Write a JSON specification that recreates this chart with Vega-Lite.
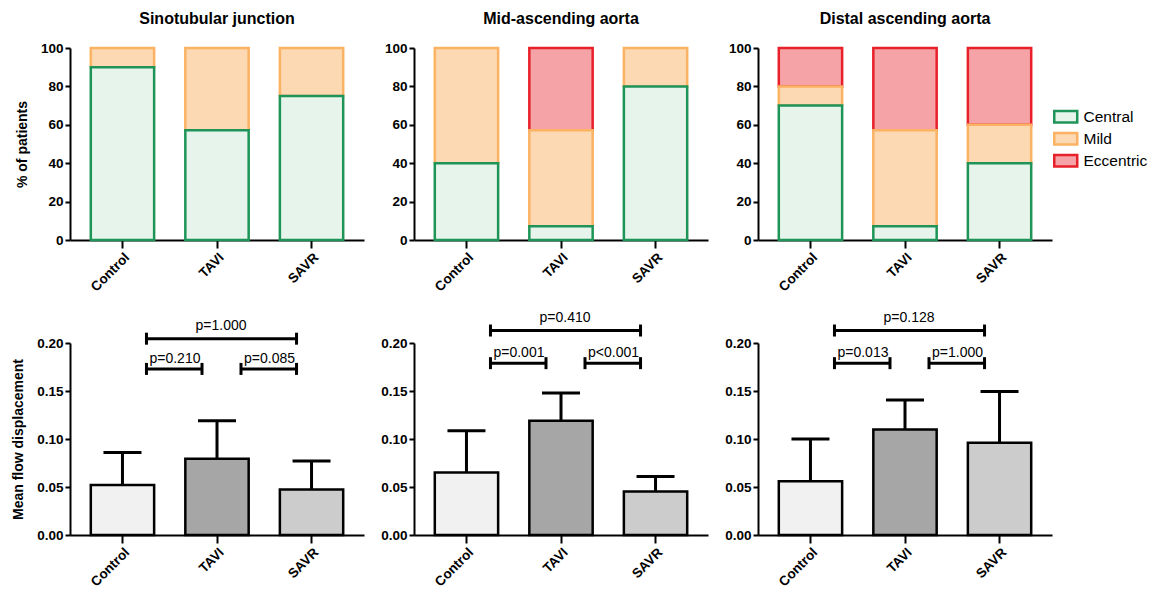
{
  "$schema": "https://vega.github.io/schema/vega-lite/v6.json",
  "padding": {"left": 11, "top": 11, "right": 5, "bottom": 2},
  "datasets": {
    "top": [
      {"panel": "Sinotubular junction", "group": "Control", "type": "Mild", "pct": 10},
      {"panel": "Sinotubular junction", "group": "Control", "type": "Central", "pct": 90},
      {"panel": "Sinotubular junction", "group": "TAVI", "type": "Mild", "pct": 42.9},
      {"panel": "Sinotubular junction", "group": "TAVI", "type": "Central", "pct": 57.1},
      {"panel": "Sinotubular junction", "group": "SAVR", "type": "Mild", "pct": 25},
      {"panel": "Sinotubular junction", "group": "SAVR", "type": "Central", "pct": 75},
      {"panel": "Mid-ascending aorta", "group": "Control", "type": "Mild", "pct": 60},
      {"panel": "Mid-ascending aorta", "group": "Control", "type": "Central", "pct": 40},
      {"panel": "Mid-ascending aorta", "group": "TAVI", "type": "Eccentric", "pct": 42.9},
      {"panel": "Mid-ascending aorta", "group": "TAVI", "type": "Mild", "pct": 50},
      {"panel": "Mid-ascending aorta", "group": "TAVI", "type": "Central", "pct": 7.1},
      {"panel": "Mid-ascending aorta", "group": "SAVR", "type": "Mild", "pct": 20},
      {"panel": "Mid-ascending aorta", "group": "SAVR", "type": "Central", "pct": 80},
      {"panel": "Distal ascending aorta", "group": "Control", "type": "Eccentric", "pct": 20},
      {"panel": "Distal ascending aorta", "group": "Control", "type": "Mild", "pct": 10},
      {"panel": "Distal ascending aorta", "group": "Control", "type": "Central", "pct": 70},
      {"panel": "Distal ascending aorta", "group": "TAVI", "type": "Eccentric", "pct": 42.9},
      {"panel": "Distal ascending aorta", "group": "TAVI", "type": "Mild", "pct": 50},
      {"panel": "Distal ascending aorta", "group": "TAVI", "type": "Central", "pct": 7.1},
      {"panel": "Distal ascending aorta", "group": "SAVR", "type": "Eccentric", "pct": 40},
      {"panel": "Distal ascending aorta", "group": "SAVR", "type": "Mild", "pct": 20},
      {"panel": "Distal ascending aorta", "group": "SAVR", "type": "Central", "pct": 40}
    ],
    "bottom": [
      {"panel": "Sinotubular junction", "group": "Control", "mean": 0.052, "upper": 0.086},
      {"panel": "Sinotubular junction", "group": "TAVI", "mean": 0.0795, "upper": 0.119},
      {"panel": "Sinotubular junction", "group": "SAVR", "mean": 0.0475, "upper": 0.077},
      {"panel": "Mid-ascending aorta", "group": "Control", "mean": 0.065, "upper": 0.1085},
      {"panel": "Mid-ascending aorta", "group": "TAVI", "mean": 0.119, "upper": 0.148},
      {"panel": "Mid-ascending aorta", "group": "SAVR", "mean": 0.0452, "upper": 0.061},
      {"panel": "Distal ascending aorta", "group": "Control", "mean": 0.056, "upper": 0.100},
      {"panel": "Distal ascending aorta", "group": "TAVI", "mean": 0.110, "upper": 0.1405},
      {"panel": "Distal ascending aorta", "group": "SAVR", "mean": 0.096, "upper": 0.1496}
    ],
    "brackets": [
      {"panel": "Sinotubular junction", "g1": "Control", "g2": "SAVR", "level": "top", "y": 0.2045, "label": "p=1.000"},
      {"panel": "Sinotubular junction", "g1": "Control", "g2": "TAVI", "level": "small", "y": 0.173, "label": "p=0.210"},
      {"panel": "Sinotubular junction", "g1": "TAVI", "g2": "SAVR", "level": "small", "y": 0.173, "label": "p=0.085"},
      {"panel": "Mid-ascending aorta", "g1": "Control", "g2": "SAVR", "level": "top", "y": 0.213, "label": "p=0.410"},
      {"panel": "Mid-ascending aorta", "g1": "Control", "g2": "TAVI", "level": "small", "y": 0.179, "label": "p=0.001"},
      {"panel": "Mid-ascending aorta", "g1": "TAVI", "g2": "SAVR", "level": "small", "y": 0.179, "label": "p<0.001"},
      {"panel": "Distal ascending aorta", "g1": "Control", "g2": "SAVR", "level": "top", "y": 0.213, "label": "p=0.128"},
      {"panel": "Distal ascending aorta", "g1": "Control", "g2": "TAVI", "level": "small", "y": 0.179, "label": "p=0.013"},
      {"panel": "Distal ascending aorta", "g1": "TAVI", "g2": "SAVR", "level": "small", "y": 0.179, "label": "p=1.000"}
    ]
  },
  "columns": 3,
  "spacing": {"row": 16, "column": 16},
  "resolve": {"scale": {"fill": "independent", "stroke": "independent"}, "legend": {"fill": "independent", "stroke": "independent"}},
  "concat": [
    {
      "title": "Sinotubular junction",
      "width": 294, "height": 192,
      "data": {"name": "top"},
      "transform": [{"filter": "datum.panel === 'Sinotubular junction'"}, {"calculate": "indexof(['Central','Mild','Eccentric'], datum.type)", "as": "k"}],
      "mark": {"type": "bar", "strokeWidth": 2.5},
      "encoding": {
        "x": {"field": "group", "type": "nominal", "scale": {"domain": ["Control", "TAVI", "SAVR"], "paddingInner": 0.33, "paddingOuter": 0.22}, "title": null},
        "y": {"field": "pct", "type": "quantitative", "stack": "zero", "scale": {"domain": [0, 100]}, "axis": {"values": [0, 20, 40, 60, 80, 100]}, "title": "% of patients"},
        "order": {"field": "k", "type": "quantitative", "sort": "ascending"},
        "fill": {"field": "type", "type": "nominal", "scale": {"domain": ["Central", "Mild", "Eccentric"], "range": ["#e6f4eb", "#fcd9b2", "#f5a3a6"]}, "legend": null},
        "stroke": {"field": "type", "type": "nominal", "scale": {"domain": ["Central", "Mild", "Eccentric"], "range": ["#1f9458", "#fbb262", "#e8202a"]}, "legend": null}
      }
    },
    {
      "title": "Mid-ascending aorta",
      "width": 294, "height": 192,
      "data": {"name": "top"},
      "transform": [{"filter": "datum.panel === 'Mid-ascending aorta'"}, {"calculate": "indexof(['Central','Mild','Eccentric'], datum.type)", "as": "k"}],
      "mark": {"type": "bar", "strokeWidth": 2.5},
      "encoding": {
        "x": {"field": "group", "type": "nominal", "scale": {"domain": ["Control", "TAVI", "SAVR"], "paddingInner": 0.33, "paddingOuter": 0.22}, "title": null},
        "y": {"field": "pct", "type": "quantitative", "stack": "zero", "scale": {"domain": [0, 100]}, "axis": {"values": [0, 20, 40, 60, 80, 100]}, "title": null},
        "order": {"field": "k", "type": "quantitative", "sort": "ascending"},
        "fill": {"field": "type", "type": "nominal", "scale": {"domain": ["Central", "Mild", "Eccentric"], "range": ["#e6f4eb", "#fcd9b2", "#f5a3a6"]}, "legend": null},
        "stroke": {"field": "type", "type": "nominal", "scale": {"domain": ["Central", "Mild", "Eccentric"], "range": ["#1f9458", "#fbb262", "#e8202a"]}, "legend": null}
      }
    },
    {
      "title": "Distal ascending aorta",
      "width": 294, "height": 192,
      "data": {"name": "top"},
      "transform": [{"filter": "datum.panel === 'Distal ascending aorta'"}, {"calculate": "indexof(['Central','Mild','Eccentric'], datum.type)", "as": "k"}],
      "mark": {"type": "bar", "strokeWidth": 2.5},
      "encoding": {
        "x": {"field": "group", "type": "nominal", "scale": {"domain": ["Control", "TAVI", "SAVR"], "paddingInner": 0.33, "paddingOuter": 0.22}, "title": null},
        "y": {"field": "pct", "type": "quantitative", "stack": "zero", "scale": {"domain": [0, 100]}, "axis": {"values": [0, 20, 40, 60, 80, 100]}, "title": null},
        "order": {"field": "k", "type": "quantitative", "sort": "ascending"},
        "fill": {"field": "type", "type": "nominal", "scale": {"domain": ["Central", "Mild", "Eccentric"], "range": ["#e6f4eb", "#fcd9b2", "#f5a3a6"]},
          "legend": {"orient": "none", "legendX": 300, "legendY": 61, "title": null, "symbolType": "M-2,-1H2V1H-2Z", "symbolSize": 132, "symbolStrokeWidth": 2.5, "labelFontSize": 15.5, "labelColor": "#000", "labelFontWeight": "normal", "rowPadding": 0, "labelOffset": 10}},
        "stroke": {"field": "type", "type": "nominal", "scale": {"domain": ["Central", "Mild", "Eccentric"], "range": ["#1f9458", "#fbb262", "#e8202a"]},
          "legend": {"orient": "none", "legendX": 300, "legendY": 61, "title": null, "symbolType": "M-2,-1H2V1H-2Z", "symbolSize": 132, "symbolStrokeWidth": 2.5, "labelFontSize": 15.5, "labelColor": "#000", "labelFontWeight": "normal", "rowPadding": 0, "labelOffset": 10}}
      }
    },
    {
      "width": 294, "height": 192,
      "layer": [
        {
          "data": {"name": "bottom"},
          "transform": [{"filter": "datum.panel === 'Sinotubular junction'"}],
          "mark": {"type": "bar", "stroke": "#000", "strokeWidth": 2.5},
          "encoding": {
            "x": {"field": "group", "type": "nominal", "scale": {"domain": ["Control", "TAVI", "SAVR"], "paddingInner": 0.33, "paddingOuter": 0.22}, "title": null},
            "y": {"field": "mean", "type": "quantitative", "scale": {"domain": [0, 0.2]}, "axis": {"values": [0, 0.05, 0.1, 0.15, 0.2], "format": ".2f"}, "title": "Mean flow displacement"},
            "fill": {"field": "group", "type": "nominal", "scale": {"domain": ["Control", "TAVI", "SAVR"], "range": ["#f1f1f1", "#a6a6a6", "#cccccc"]}, "legend": null}
          }
        },
        {
          "data": {"name": "bottom"},
          "transform": [{"filter": "datum.panel === 'Sinotubular junction'"}],
          "mark": {"type": "rule", "strokeWidth": 3, "color": "#000"},
          "encoding": {
            "x": {"field": "group", "type": "nominal", "title": null},
            "y": {"field": "mean", "type": "quantitative", "title": "Mean flow displacement"},
            "y2": {"field": "upper"}
          }
        },
        {
          "data": {"name": "bottom"},
          "transform": [{"filter": "datum.panel === 'Sinotubular junction'"}],
          "mark": {"type": "rule", "strokeWidth": 3, "color": "#000", "xOffset": -19, "x2Offset": 19},
          "encoding": {
            "x": {"field": "group", "type": "nominal", "title": null},
            "x2": {"field": "group"},
            "y": {"field": "upper", "type": "quantitative", "title": "Mean flow displacement"}
          }
        },
        {
          "data": {"name": "brackets"},
          "transform": [{"filter": "datum.panel === 'Sinotubular junction'"}],
          "mark": {"type": "rule", "strokeWidth": 3, "color": "#000", "xOffset": 24, "x2Offset": -15},
          "encoding": {
            "x": {"field": "g1", "type": "nominal", "title": null},
            "x2": {"field": "g2"},
            "y": {"field": "y", "type": "quantitative", "title": "Mean flow displacement"}
          }
        },
        {
          "data": {"name": "brackets"},
          "transform": [{"filter": "datum.panel === 'Sinotubular junction'"}],
          "mark": {"type": "rule", "strokeWidth": 3, "color": "#000", "xOffset": 24, "yOffset": -6, "y2Offset": 6},
          "encoding": {
            "x": {"field": "g1", "type": "nominal", "title": null},
            "y": {"field": "y", "type": "quantitative", "title": "Mean flow displacement"},
            "y2": {"field": "y"}
          }
        },
        {
          "data": {"name": "brackets"},
          "transform": [{"filter": "datum.panel === 'Sinotubular junction'"}],
          "mark": {"type": "rule", "strokeWidth": 3, "color": "#000", "xOffset": -15, "yOffset": -6, "y2Offset": 6},
          "encoding": {
            "x": {"field": "g2", "type": "nominal", "title": null},
            "y": {"field": "y", "type": "quantitative", "title": "Mean flow displacement"},
            "y2": {"field": "y"}
          }
        },
        {
          "data": {"name": "brackets"},
          "transform": [{"filter": "datum.panel === 'Sinotubular junction' && datum.level === 'small'"}],
          "mark": {"type": "text", "fontSize": 14, "color": "#000", "align": "left", "baseline": "alphabetic", "xOffset": 27, "yOffset": -6},
          "encoding": {
            "x": {"field": "g1", "type": "nominal", "title": null},
            "y": {"field": "y", "type": "quantitative", "title": "Mean flow displacement"},
            "text": {"field": "label"}
          }
        },
        {
          "data": {"name": "brackets"},
          "transform": [{"filter": "datum.panel === 'Sinotubular junction' && datum.level === 'top'"}],
          "mark": {"type": "text", "fontSize": 14, "color": "#000", "align": "center", "baseline": "alphabetic", "xOffset": 4, "yOffset": -9},
          "encoding": {
            "x": {"datum": "TAVI", "type": "nominal", "title": null},
            "y": {"field": "y", "type": "quantitative", "title": "Mean flow displacement"},
            "text": {"field": "label"}
          }
        }
      ]
    },
    {
      "width": 294, "height": 192,
      "layer": [
        {
          "data": {"name": "bottom"},
          "transform": [{"filter": "datum.panel === 'Mid-ascending aorta'"}],
          "mark": {"type": "bar", "stroke": "#000", "strokeWidth": 2.5},
          "encoding": {
            "x": {"field": "group", "type": "nominal", "scale": {"domain": ["Control", "TAVI", "SAVR"], "paddingInner": 0.33, "paddingOuter": 0.22}, "title": null},
            "y": {"field": "mean", "type": "quantitative", "scale": {"domain": [0, 0.2]}, "axis": {"values": [0, 0.05, 0.1, 0.15, 0.2], "format": ".2f"}, "title": null},
            "fill": {"field": "group", "type": "nominal", "scale": {"domain": ["Control", "TAVI", "SAVR"], "range": ["#f1f1f1", "#a6a6a6", "#cccccc"]}, "legend": null}
          }
        },
        {
          "data": {"name": "bottom"},
          "transform": [{"filter": "datum.panel === 'Mid-ascending aorta'"}],
          "mark": {"type": "rule", "strokeWidth": 3, "color": "#000"},
          "encoding": {
            "x": {"field": "group", "type": "nominal", "title": null},
            "y": {"field": "mean", "type": "quantitative", "title": null},
            "y2": {"field": "upper"}
          }
        },
        {
          "data": {"name": "bottom"},
          "transform": [{"filter": "datum.panel === 'Mid-ascending aorta'"}],
          "mark": {"type": "rule", "strokeWidth": 3, "color": "#000", "xOffset": -19, "x2Offset": 19},
          "encoding": {
            "x": {"field": "group", "type": "nominal", "title": null},
            "x2": {"field": "group"},
            "y": {"field": "upper", "type": "quantitative", "title": null}
          }
        },
        {
          "data": {"name": "brackets"},
          "transform": [{"filter": "datum.panel === 'Mid-ascending aorta'"}],
          "mark": {"type": "rule", "strokeWidth": 3, "color": "#000", "xOffset": 24, "x2Offset": -15},
          "encoding": {
            "x": {"field": "g1", "type": "nominal", "title": null},
            "x2": {"field": "g2"},
            "y": {"field": "y", "type": "quantitative", "title": null}
          }
        },
        {
          "data": {"name": "brackets"},
          "transform": [{"filter": "datum.panel === 'Mid-ascending aorta'"}],
          "mark": {"type": "rule", "strokeWidth": 3, "color": "#000", "xOffset": 24, "yOffset": -6, "y2Offset": 6},
          "encoding": {
            "x": {"field": "g1", "type": "nominal", "title": null},
            "y": {"field": "y", "type": "quantitative", "title": null},
            "y2": {"field": "y"}
          }
        },
        {
          "data": {"name": "brackets"},
          "transform": [{"filter": "datum.panel === 'Mid-ascending aorta'"}],
          "mark": {"type": "rule", "strokeWidth": 3, "color": "#000", "xOffset": -15, "yOffset": -6, "y2Offset": 6},
          "encoding": {
            "x": {"field": "g2", "type": "nominal", "title": null},
            "y": {"field": "y", "type": "quantitative", "title": null},
            "y2": {"field": "y"}
          }
        },
        {
          "data": {"name": "brackets"},
          "transform": [{"filter": "datum.panel === 'Mid-ascending aorta' && datum.level === 'small'"}],
          "mark": {"type": "text", "fontSize": 14, "color": "#000", "align": "left", "baseline": "alphabetic", "xOffset": 27, "yOffset": -6},
          "encoding": {
            "x": {"field": "g1", "type": "nominal", "title": null},
            "y": {"field": "y", "type": "quantitative", "title": null},
            "text": {"field": "label"}
          }
        },
        {
          "data": {"name": "brackets"},
          "transform": [{"filter": "datum.panel === 'Mid-ascending aorta' && datum.level === 'top'"}],
          "mark": {"type": "text", "fontSize": 14, "color": "#000", "align": "center", "baseline": "alphabetic", "xOffset": 4, "yOffset": -9},
          "encoding": {
            "x": {"datum": "TAVI", "type": "nominal", "title": null},
            "y": {"field": "y", "type": "quantitative", "title": null},
            "text": {"field": "label"}
          }
        }
      ]
    },
    {
      "width": 294, "height": 192,
      "layer": [
        {
          "data": {"name": "bottom"},
          "transform": [{"filter": "datum.panel === 'Distal ascending aorta'"}],
          "mark": {"type": "bar", "stroke": "#000", "strokeWidth": 2.5},
          "encoding": {
            "x": {"field": "group", "type": "nominal", "scale": {"domain": ["Control", "TAVI", "SAVR"], "paddingInner": 0.33, "paddingOuter": 0.22}, "title": null},
            "y": {"field": "mean", "type": "quantitative", "scale": {"domain": [0, 0.2]}, "axis": {"values": [0, 0.05, 0.1, 0.15, 0.2], "format": ".2f"}, "title": null},
            "fill": {"field": "group", "type": "nominal", "scale": {"domain": ["Control", "TAVI", "SAVR"], "range": ["#f1f1f1", "#a6a6a6", "#cccccc"]}, "legend": null}
          }
        },
        {
          "data": {"name": "bottom"},
          "transform": [{"filter": "datum.panel === 'Distal ascending aorta'"}],
          "mark": {"type": "rule", "strokeWidth": 3, "color": "#000"},
          "encoding": {
            "x": {"field": "group", "type": "nominal", "title": null},
            "y": {"field": "mean", "type": "quantitative", "title": null},
            "y2": {"field": "upper"}
          }
        },
        {
          "data": {"name": "bottom"},
          "transform": [{"filter": "datum.panel === 'Distal ascending aorta'"}],
          "mark": {"type": "rule", "strokeWidth": 3, "color": "#000", "xOffset": -19, "x2Offset": 19},
          "encoding": {
            "x": {"field": "group", "type": "nominal", "title": null},
            "x2": {"field": "group"},
            "y": {"field": "upper", "type": "quantitative", "title": null}
          }
        },
        {
          "data": {"name": "brackets"},
          "transform": [{"filter": "datum.panel === 'Distal ascending aorta'"}],
          "mark": {"type": "rule", "strokeWidth": 3, "color": "#000", "xOffset": 24, "x2Offset": -15},
          "encoding": {
            "x": {"field": "g1", "type": "nominal", "title": null},
            "x2": {"field": "g2"},
            "y": {"field": "y", "type": "quantitative", "title": null}
          }
        },
        {
          "data": {"name": "brackets"},
          "transform": [{"filter": "datum.panel === 'Distal ascending aorta'"}],
          "mark": {"type": "rule", "strokeWidth": 3, "color": "#000", "xOffset": 24, "yOffset": -6, "y2Offset": 6},
          "encoding": {
            "x": {"field": "g1", "type": "nominal", "title": null},
            "y": {"field": "y", "type": "quantitative", "title": null},
            "y2": {"field": "y"}
          }
        },
        {
          "data": {"name": "brackets"},
          "transform": [{"filter": "datum.panel === 'Distal ascending aorta'"}],
          "mark": {"type": "rule", "strokeWidth": 3, "color": "#000", "xOffset": -15, "yOffset": -6, "y2Offset": 6},
          "encoding": {
            "x": {"field": "g2", "type": "nominal", "title": null},
            "y": {"field": "y", "type": "quantitative", "title": null},
            "y2": {"field": "y"}
          }
        },
        {
          "data": {"name": "brackets"},
          "transform": [{"filter": "datum.panel === 'Distal ascending aorta' && datum.level === 'small'"}],
          "mark": {"type": "text", "fontSize": 14, "color": "#000", "align": "left", "baseline": "alphabetic", "xOffset": 27, "yOffset": -6},
          "encoding": {
            "x": {"field": "g1", "type": "nominal", "title": null},
            "y": {"field": "y", "type": "quantitative", "title": null},
            "text": {"field": "label"}
          }
        },
        {
          "data": {"name": "brackets"},
          "transform": [{"filter": "datum.panel === 'Distal ascending aorta' && datum.level === 'top'"}],
          "mark": {"type": "text", "fontSize": 14, "color": "#000", "align": "center", "baseline": "alphabetic", "xOffset": 4, "yOffset": -9},
          "encoding": {
            "x": {"datum": "TAVI", "type": "nominal", "title": null},
            "y": {"field": "y", "type": "quantitative", "title": null},
            "text": {"field": "label"}
          }
        }
      ]
    }
  ],
  "config": {
    "font": "Liberation Sans",
    "view": {"stroke": null},
    "axis": {"domainColor": "#000", "domainWidth": 2, "tickColor": "#000", "tickWidth": 2, "tickSize": 5, "labelColor": "#000", "labelFontWeight": "bold", "labelFontSize": 13.5, "labelPadding": 2, "titleColor": "#000", "titleFontSize": 14, "titleFontWeight": "bold", "titlePadding": 11, "grid": false},
    "axisX": {"tickSize": 8, "labelAngle": -45, "labelFontSize": 13.5},
    "title": {"fontSize": 16, "fontWeight": "bold", "color": "#000", "offset": 14},
    "legend": {"labelFont": "Liberation Sans"}
  }
}
